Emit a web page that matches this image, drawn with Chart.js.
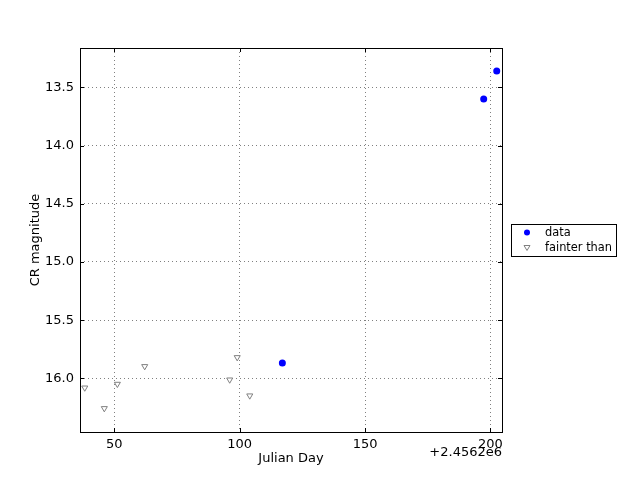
<!DOCTYPE html>
<html>
<head>
    <title>CR magnitude light curve</title>
    <script src="https://cdn.jsdelivr.net/npm/chart.js"></script>
    <style>
        html, body { margin: 0; padding: 0; background: #fff; }
    </style>
</head>
<body>
    <canvas id="lcChart" width="640" height="480"></canvas>

    <script>
        // Julian Day minus offset (axis shows +2.4562e6)
        const JD_OFFSET_LABEL = '+2.4562e6';
        const detJD = [117.0, 197.3, 202.5];
        const detMag = [15.868, 13.600, 13.360];
        const limJD = [38.2, 46.0, 51.2, 62.1, 96.0, 99.0, 104.0];
        const limMag = [16.081, 16.258, 16.049, 15.897, 16.012, 15.820, 16.149];
        const xTicks = [50, 100, 150, 200];
        const yTicks = [13.5, 14.0, 14.5, 15.0, 15.5, 16.0];

        const FONT = 'DejaVu Sans';

        // inward tick marks, frame, offset text and legend
        const decor = {
            id: 'decor',
            afterDraw(chart) {
                const ctx = chart.ctx;
                const a = chart.chartArea;
                const xs = chart.scales.x, ys = chart.scales.y;
                ctx.save();
                ctx.strokeStyle = '#000';
                ctx.lineWidth = 1;
                ctx.beginPath();
                xTicks.forEach(t => {
                    const px = Math.round(xs.getPixelForValue(t)) + 0.5;
                    ctx.moveTo(px, a.bottom); ctx.lineTo(px, a.bottom - 4);
                    ctx.moveTo(px, a.top); ctx.lineTo(px, a.top + 4);
                });
                yTicks.forEach(t => {
                    const py = Math.round(ys.getPixelForValue(t)) + 0.5;
                    ctx.moveTo(a.left, py); ctx.lineTo(a.left + 4, py);
                    ctx.moveTo(a.right, py); ctx.lineTo(a.right - 4, py);
                });
                ctx.stroke();
                ctx.strokeRect(a.left + 0.5, a.top + 0.5, a.right - a.left, a.bottom - a.top);

                // offset text
                ctx.fillStyle = '#000';
                ctx.font = '13px "' + FONT + '"';
                ctx.textAlign = 'right';
                ctx.textBaseline = 'middle';
                ctx.fillText(JD_OFFSET_LABEL, a.right, 453);

                // legend
                const lx = 511, ly = 224, lw = 105, lh = 32;
                ctx.fillStyle = '#fff';
                ctx.fillRect(lx, ly, lw, lh);
                ctx.strokeRect(lx + 0.5, ly + 0.5, lw, lh);
                ctx.fillStyle = 'blue';
                ctx.beginPath();
                ctx.arc(527, 232.5, 3, 0, Math.PI * 2);
                ctx.fill();
                ctx.strokeStyle = '#808080';
                ctx.fillStyle = '#fff';
                ctx.beginPath();
                ctx.moveTo(524, 245.5); ctx.lineTo(530, 245.5); ctx.lineTo(527, 250.5);
                ctx.closePath();
                ctx.fill(); ctx.stroke();
                ctx.fillStyle = '#000';
                ctx.font = '11.4px "' + FONT + '"';
                ctx.textAlign = 'left';
                ctx.fillText('data', 545, 233);
                ctx.fillText('fainter than', 545, 248);
                ctx.restore();
            }
        };

        const ctx = document.getElementById('lcChart').getContext('2d');
        new Chart(ctx, {
            type: 'scatter',
            data: {
                datasets: [{
                    label: 'data',
                    data: detJD.map((x, i) => ({ x: x, y: detMag[i] })),
                    backgroundColor: 'blue',
                    borderColor: 'blue',
                    pointRadius: 3.5,
                    pointBorderWidth: 0
                }, {
                    label: 'fainter than',
                    data: limJD.map((x, i) => ({ x: x, y: limMag[i] })),
                    pointStyle: 'triangle',
                    rotation: 180,
                    backgroundColor: '#fff',
                    borderColor: '#808080',
                    borderWidth: 1,
                    pointRadius: 3.5
                }]
            },
            options: {
                responsive: false,
                animation: false,
                layout: { padding: { left: 0, right: 138, top: 48, bottom: 0 } },
                plugins: {
                    legend: { display: false },
                    tooltip: { enabled: false }
                },
                scales: {
                    x: {
                        type: 'linear',
                        min: 36.3,
                        max: 204.6,
                        afterFit(s) { s.height = 48; },
                        afterBuildTicks(s) { s.ticks = xTicks.map(v => ({ value: v })); },
                        grid: { color: '#000', lineWidth: 0.5, drawTicks: false },
                        border: { display: false, dash: [1, 3] },
                        ticks: { color: '#000', padding: 5, font: { family: FONT, size: 13 } },
                        title: { display: true, text: 'Julian Day', color: '#000',
                                 padding: { top: 0, bottom: 14 }, font: { family: FONT, size: 13 } }
                    },
                    y: {
                        type: 'linear',
                        reverse: true,
                        min: 13.162,
                        max: 16.461,
                        afterFit(s) { s.width = 80; },
                        afterBuildTicks(s) { s.ticks = yTicks.map(v => ({ value: v })); },
                        grid: { color: '#000', lineWidth: 0.5, drawTicks: false },
                        border: { display: false, dash: [1, 3] },
                        ticks: { color: '#000', padding: 6, font: { family: FONT, size: 13 },
                                 callback: v => v.toFixed(1) },
                        title: { display: true, text: 'CR magnitude', color: '#000',
                                 padding: { top: 28, bottom: 0 }, font: { family: FONT, size: 13 } }
                    }
                }
            },
            plugins: [decor]
        });
    </script>
</body>
</html>
